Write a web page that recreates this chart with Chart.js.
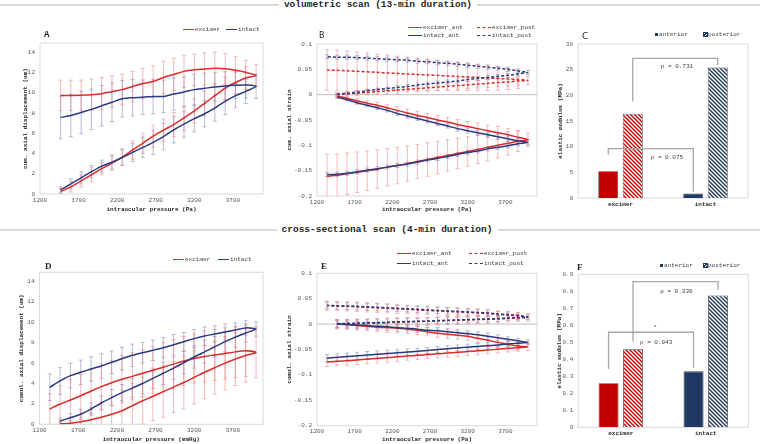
<!DOCTYPE html>
<html>
<head>
<meta charset="utf-8">
<script src="https://cdn.jsdelivr.net/npm/chart.js@4.4.1/dist/chart.umd.min.js"></script>
<style>
  body { margin: 0; width: 760px; height: 444px; background: #fff; position: relative; overflow: hidden;
         font-family: 'Liberation Mono', 'DejaVu Sans Mono', monospace; color: #404040; }
  canvas { position: absolute; }
  .sec { position: absolute; font-weight: bold; font-size: 9.5px; line-height: 10px; color: #262626; text-align: center; white-space: nowrap; }
  .rule { position: absolute; height: 1.5px; background: #d9d9d9; }
  .letter { position: absolute; line-height: 1; color: #262626; }
  .lg { position: absolute; font-size: 6px; line-height: 6px; white-space: nowrap; color: #404040; }
  .lg i { display: inline-block; width: 11px; border-top: 1.5px solid; vertical-align: middle; margin-right: 1px; }
  .lg b { display: inline-block; width: 3px; height: 3px; margin-right: 1px; vertical-align: middle; }
</style>
</head>
<body>

<div class="rule" style="left:0;top:4px;width:279px"></div>
<div class="rule" style="left:477px;top:4px;width:283px"></div>
<div class="sec" style="left:78px;top:0;width:600px">volumetric scan (13-min duration)</div>
<div class="rule" style="left:0;top:229px;width:277px"></div>
<div class="rule" style="left:498px;top:229px;width:262px"></div>
<div class="sec" style="left:87px;top:225px;width:600px">cross-sectional scan (4-min duration)</div>

<canvas id="chartA" width="268" height="195" style="left:0;top:20px"></canvas>
<canvas id="chartB" width="270" height="195" style="left:270px;top:20px"></canvas>
<canvas id="chartC" width="220" height="195" style="left:540px;top:20px"></canvas>
<canvas id="chartD" width="268" height="204" style="left:0;top:240px"></canvas>
<canvas id="chartE" width="270" height="204" style="left:270px;top:240px"></canvas>
<canvas id="chartF" width="220" height="204" style="left:540px;top:240px"></canvas>

<div class="letter" style="left:44px;top:30px;font:bold 9px 'Liberation Mono'">A</div>
<div class="letter" style="left:319px;top:31px;font:8px 'DejaVu Sans'">B</div>
<div class="letter" style="left:582px;top:31px;font:9px 'DejaVu Sans'">C</div>
<div class="letter" style="left:45px;top:261px;font:bold 9px 'Liberation Serif'">D</div>
<div class="letter" style="left:321px;top:261px;font:bold 9px 'Liberation Serif'">E</div>
<div class="letter" style="left:577px;top:262px;font:bold 9px 'Liberation Serif'">F</div>

<div class="lg" style="left:183px;top:27px"><i style="border-color:#dc2a2a"></i>excimer</div>
<div class="lg" style="left:226px;top:27px"><i style="border-color:#2a3a80"></i>intact</div>

<div class="lg" style="left:408px;top:24.7px"><i style="border-color:#dc2a2a;width:14px"></i>excimer_ant</div>
<div class="lg" style="left:477px;top:24.7px"><i style="border-color:#dc2a2a;border-top-style:dashed;width:14px"></i>excimer_post</div>
<div class="lg" style="left:408px;top:32.7px"><i style="border-color:#2a3a80;width:14px"></i>intact_ant</div>
<div class="lg" style="left:477px;top:32.7px"><i style="border-color:#2a3a80;border-top-style:dashed;width:14px"></i>intact_post</div>

<div class="lg" style="left:655px;top:32px"><b style="background:#1f3864"></b>anterior</div>
<div class="lg" style="left:704px;top:32px"><b style="background:repeating-linear-gradient(-45deg,#1f3864 0 1px,#fff 1px 2px);outline:0.5px solid #1f3864"></b>posterior</div>

<div class="lg" style="left:173px;top:257px"><i style="border-color:#dc2a2a"></i>excimer</div>
<div class="lg" style="left:218px;top:257px"><i style="border-color:#2a3a80"></i>intact</div>

<div class="lg" style="left:397px;top:251.3px"><i style="border-color:#dc2a2a;width:14px"></i>excimer_ant</div>
<div class="lg" style="left:469px;top:251.3px"><i style="border-color:#dc2a2a;border-top-style:dashed;width:14px"></i>excimer_post</div>
<div class="lg" style="left:397px;top:261px"><i style="border-color:#2a3a80;width:14px"></i>intact_ant</div>
<div class="lg" style="left:469px;top:261px"><i style="border-color:#2a3a80;border-top-style:dashed;width:14px"></i>intact_post</div>

<div class="lg" style="left:660px;top:263px"><b style="background:#1f3864"></b>anterior</div>
<div class="lg" style="left:704px;top:263px"><b style="background:repeating-linear-gradient(-45deg,#1f3864 0 1px,#fff 1px 2px);outline:0.5px solid #1f3864"></b>posterior</div>

<script>
// pressure steps (Pa), 11..30 mmHg on loading, back down on unloading
const pressureLoad = [1467, 1600, 1733, 1867, 2000, 2133, 2266, 2400, 2533, 2666, 2800, 2933, 3066, 3200, 3333, 3466, 3600, 3733, 3866, 4000];
const pressureUnloadA = [1467, 1600, 1733, 1867, 2000, 2133, 2266, 2400, 2533, 2666, 2800, 2933, 3066, 3200, 3333, 3466, 3600, 3733, 3866];
const pressureUnload = [1333, 1467, 1600, 1733, 1867, 2000, 2133, 2266, 2400, 2533, 2666, 2800, 2933, 3066, 3200, 3333, 3466, 3600, 3733, 3866];

const xTicks = [1200, 1700, 2200, 2700, 3200, 3700];
const dispTicks = [0, 2, 4, 6, 8, 10, 12, 14];
const dispLabels = ["0", "2", "4", "6", "8", "10", "12", "14"];
const strainTicks = [-0.2, -0.15, -0.1, -0.05, 0, 0.05, 0.1];
const strainLabels = ["-0.2", "-0.15", "-0.1", "-0.05", "0", "0.05", "0.1"];
const modTicksC = [0, 5, 10, 15, 20, 25, 30];
const modLabelsC = ["0", "5", "10", "15", "20", "25", "30"];
const modTicksF = [0, 0.1, 0.2, 0.3, 0.4, 0.5, 0.6, 0.7, 0.8, 0.9];
const modLabelsF = ["0", "0.1", "0.2", "0.3", "0.4", "0.5", "0.6", "0.7", "0.8", "0.9"];

// A - volumetric, displacement (um)
const aExcimerLoad = [0.25, 0.7, 1.3, 1.9, 2.5, 3.05, 3.65, 4.35, 5.0, 5.7, 6.3, 6.85, 7.5, 8.2, 8.95, 9.7, 10.45, 11.0, 11.45, 11.7];
const aExcimerLoadErr = [0.3, 0.5, 0.6, 0.7, 0.6, 0.7, 0.8, 0.9, 1.0, 1.1, 1.1, 1.2, 1.2, 1.2, 1.2, 1.2, 1.1, 1.1, 1.1, 1.1];
const aExcimerUnload = [9.73, 9.73, 9.75, 9.8, 9.9, 10.1, 10.3, 10.6, 10.9, 11.1, 11.5, 11.8, 12.1, 12.25, 12.33, 12.4, 12.35, 12.2, 12.0];
const aExcimerUnloadErr = [1.5, 1.5, 1.5, 1.55, 1.6, 1.55, 1.5, 1.5, 1.5, 1.55, 1.6, 1.6, 1.6, 1.55, 1.6, 1.6, 1.5, 1.35, 1.2];
const aIntactLoad = [0.4, 1.0, 1.6, 2.2, 2.75, 3.15, 3.6, 4.1, 4.6, 5.1, 5.67, 6.33, 6.9, 7.43, 7.92, 8.48, 9.14, 9.7, 10.13, 10.62];
const aIntactLoadErr = [0.3, 0.5, 0.6, 0.6, 0.6, 0.7, 0.8, 0.9, 1.0, 1.2, 1.3, 1.3, 1.3, 1.3, 1.3, 1.3, 1.3, 1.2, 1.2, 1.2];
const aIntactUnload = [7.55, 7.75, 8.05, 8.35, 8.7, 9.05, 9.4, 9.5, 9.55, 9.63, 9.63, 9.87, 10.07, 10.3, 10.43, 10.56, 10.66, 10.72, 10.75];
const aIntactUnloadErr = [2.1, 2.1, 2.1, 2.0, 2.0, 1.9, 1.8, 1.8, 1.7, 1.7, 1.6, 1.6, 1.5, 1.5, 1.5, 1.4, 1.4, 1.3, 1.3];

// B - volumetric, strain
const bExcimerAntLoad = [-0.003, -0.007, -0.012, -0.017, -0.021, -0.026, -0.031, -0.036, -0.041, -0.045, -0.050, -0.054, -0.059, -0.063, -0.067, -0.071, -0.075, -0.079, -0.084, -0.089];
const bExcimerAntLoadErr = [0.004, 0.004, 0.005, 0.005, 0.006, 0.006, 0.007, 0.007, 0.008, 0.008, 0.009, 0.009, 0.010, 0.010, 0.011, 0.011, 0.012, 0.012, 0.013, 0.013];
const bExcimerAntUnload = [-0.161, -0.159, -0.156, -0.153, -0.150, -0.147, -0.143, -0.140, -0.136, -0.132, -0.128, -0.124, -0.120, -0.116, -0.112, -0.108, -0.104, -0.100, -0.096, -0.092];
const bExcimerAntUnloadErr = [0.043, 0.042, 0.041, 0.040, 0.039, 0.038, 0.037, 0.036, 0.035, 0.034, 0.033, 0.032, 0.031, 0.030, 0.029, 0.028, 0.027, 0.025, 0.023, 0.020];
const bIntactAntLoad = [-0.005, -0.010, -0.016, -0.021, -0.026, -0.031, -0.037, -0.042, -0.047, -0.052, -0.057, -0.062, -0.067, -0.071, -0.075, -0.079, -0.083, -0.087, -0.091, -0.094];
const bIntactAntLoadErr = [0.002, 0.002, 0.003, 0.003, 0.003, 0.003, 0.004, 0.004, 0.004, 0.004, 0.004, 0.004, 0.005, 0.005, 0.005, 0.005, 0.005, 0.005, 0.005, 0.005];
const bIntactAntUnload = [-0.158, -0.157, -0.155, -0.152, -0.149, -0.146, -0.143, -0.140, -0.137, -0.133, -0.129, -0.126, -0.122, -0.118, -0.114, -0.111, -0.107, -0.104, -0.101, -0.097];
const bIntactAntUnloadErr = [0.004, 0.004, 0.004, 0.004, 0.004, 0.004, 0.004, 0.004, 0.004, 0.004, 0.004, 0.004, 0.004, 0.004, 0.004, 0.004, 0.004, 0.004, 0.004, 0.004];
const bExcimerPostLoad = [0, 0.0015, 0.003, 0.0045, 0.006, 0.0075, 0.009, 0.0105, 0.012, 0.0135, 0.015, 0.0165, 0.018, 0.0195, 0.021, 0.022, 0.024, 0.025, 0.027, 0.028];
const bExcimerPostLoadErr = [0.004, 0.004, 0.005, 0.005, 0.005, 0.006, 0.006, 0.006, 0.006, 0.007, 0.007, 0.007, 0.007, 0.007, 0.008, 0.008, 0.008, 0.008, 0.008, 0.008];
const bExcimerPostUnload = [0.0487, 0.048, 0.047, 0.046, 0.045, 0.044, 0.043, 0.042, 0.041, 0.040, 0.039, 0.038, 0.037, 0.036, 0.035, 0.034, 0.033, 0.032, 0.031, 0.030];
const bExcimerPostUnloadErr = [0.040, 0.040, 0.039, 0.038, 0.037, 0.036, 0.035, 0.034, 0.033, 0.032, 0.031, 0.030, 0.029, 0.028, 0.027, 0.026, 0.025, 0.023, 0.021, 0.018];
const bIntactPostLoad = [0.001, 0.003, 0.005, 0.008, 0.010, 0.012, 0.014, 0.016, 0.019, 0.021, 0.023, 0.025, 0.027, 0.030, 0.032, 0.034, 0.036, 0.038, 0.041, 0.044];
const bIntactPostLoadErr = [0.002, 0.002, 0.003, 0.003, 0.003, 0.003, 0.004, 0.004, 0.004, 0.004, 0.004, 0.004, 0.004, 0.004, 0.004, 0.004, 0.004, 0.004, 0.004, 0.004];
const bIntactPostUnload = [0.075, 0.074, 0.074, 0.073, 0.072, 0.071, 0.070, 0.069, 0.068, 0.066, 0.065, 0.063, 0.062, 0.060, 0.058, 0.056, 0.054, 0.052, 0.050, 0.047];
const bIntactPostUnloadErr = [0.004, 0.004, 0.004, 0.004, 0.004, 0.004, 0.004, 0.004, 0.004, 0.004, 0.004, 0.004, 0.004, 0.004, 0.004, 0.004, 0.004, 0.004, 0.004, 0.004];

// C - volumetric, elastic modulus (MPa)
const groups = ["excimer", "intact"];
const cAnterior = [5.2, 0.9];
const cPosterior = [16.4, 25.4];

// D - cross-sectional, displacement (um)
const dExcimerLoad = [0.05, 0.1, 0.26, 0.45, 0.69, 0.98, 1.33, 1.82, 2.31, 2.75, 3.2, 3.65, 4.1, 4.6, 5.1, 5.55, 6.0, 6.4, 6.75, 7.05];
const dExcimerLoadErr = [0.3, 0.6, 0.9, 1.2, 1.5, 1.8, 2.0, 2.2, 2.3, 2.4, 2.5, 2.5, 2.6, 2.6, 2.6, 2.6, 2.6, 2.6, 2.6, 2.5];
const dExcimerUnload = [1.5, 1.99, 2.38, 2.8, 3.26, 3.69, 4.08, 4.41, 4.7, 5.0, 5.3, 5.6, 5.9, 6.2, 6.45, 6.65, 6.8, 6.95, 7.1, 7.2];
const dExcimerUnloadErr = [1.5, 1.8, 2.0, 2.1, 2.2, 2.2, 2.2, 2.3, 2.3, 2.3, 2.3, 2.4, 2.4, 2.4, 2.4, 2.5, 2.5, 2.5, 2.5, 2.5];
const dIntactLoad = [0.32, 0.65, 0.98, 1.5, 2.09, 2.61, 3.1, 3.55, 4.0, 4.5, 5.0, 5.5, 6.05, 6.6, 7.1, 7.6, 8.1, 8.55, 8.95, 9.34];
const dIntactLoadErr = [0.3, 0.4, 0.5, 0.6, 0.7, 0.8, 0.8, 0.9, 1.0, 1.0, 1.1, 1.1, 1.1, 1.1, 1.1, 1.0, 1.0, 1.0, 0.9, 0.7];
const dIntactUnload = [3.63, 4.25, 4.77, 5.1, 5.42, 5.72, 6.08, 6.43, 6.76, 7.02, 7.25, 7.5, 7.8, 8.1, 8.4, 8.65, 8.85, 9.05, 9.25, 9.45];
const dIntactUnloadErr = [1.3, 1.3, 1.2, 1.2, 1.2, 1.2, 1.1, 1.1, 1.1, 1.0, 1.0, 1.0, 1.0, 0.9, 0.9, 0.9, 0.8, 0.8, 0.7, 0.7];

// E - cross-sectional, strain
const eExcimerAntLoad = [0, -0.001, -0.003, -0.004, -0.006, -0.007, -0.008, -0.010, -0.012, -0.015, -0.018, -0.020, -0.022, -0.024, -0.028, -0.032, -0.036, -0.040, -0.043, -0.045];
const eExcimerAntUnload = [-0.0745, -0.073, -0.072, -0.0705, -0.069, -0.0675, -0.066, -0.0645, -0.063, -0.0615, -0.060, -0.0585, -0.057, -0.0555, -0.054, -0.0525, -0.051, -0.0495, -0.048, -0.0465];
const eIntactAntLoad = [0, -0.001, -0.002, -0.003, -0.004, -0.005, -0.007, -0.008, -0.010, -0.012, -0.013, -0.015, -0.017, -0.019, -0.021, -0.024, -0.027, -0.030, -0.033, -0.036];
const eIntactAntUnload = [-0.067, -0.0655, -0.064, -0.0625, -0.061, -0.0595, -0.058, -0.0565, -0.055, -0.0535, -0.052, -0.050, -0.0485, -0.047, -0.0455, -0.044, -0.0425, -0.041, -0.039, -0.0375];
const eExcimerPostLoad = [0, 0.0005, 0.001, 0.0015, 0.002, 0.003, 0.0035, 0.004, 0.005, 0.0055, 0.006, 0.007, 0.0075, 0.008, 0.009, 0.0095, 0.010, 0.011, 0.012, 0.013];
const eExcimerPostUnload = [0.036, 0.0355, 0.035, 0.034, 0.033, 0.032, 0.031, 0.030, 0.029, 0.028, 0.027, 0.026, 0.025, 0.024, 0.023, 0.022, 0.021, 0.019, 0.018, 0.016];
const eIntactPostLoad = [0.001, 0.0015, 0.002, 0.0025, 0.003, 0.0035, 0.0045, 0.005, 0.0055, 0.006, 0.007, 0.0075, 0.008, 0.009, 0.0095, 0.010, 0.011, 0.012, 0.013, 0.014];
const eIntactPostUnload = [0.037, 0.036, 0.0355, 0.035, 0.034, 0.033, 0.032, 0.031, 0.030, 0.029, 0.028, 0.027, 0.026, 0.025, 0.024, 0.023, 0.022, 0.020, 0.019, 0.017];
const eExcimerErr = [0.009, 0.009, 0.009, 0.009, 0.009, 0.009, 0.009, 0.009, 0.008, 0.008, 0.008, 0.008, 0.008, 0.008, 0.008, 0.008, 0.007, 0.007, 0.007, 0.007];
const eIntactErr = [0.007, 0.007, 0.007, 0.007, 0.007, 0.007, 0.007, 0.006, 0.006, 0.006, 0.006, 0.006, 0.006, 0.006, 0.006, 0.006, 0.006, 0.005, 0.005, 0.005];

// F - cross-sectional, elastic modulus (MPa)
const fAnterior = [0.259, 0.329];
const fPosterior = [0.459, 0.776];

// significance brackets: dataset of the two bars, leg ends, bar top, notes [text, value, share of span]
const cBrackets = [
    { set: 0, legs: [8.45, 1.2], top: 9.6, notes: [["p = 0.075", 8.0, 0.69]] },
    { set: 1, legs: [18.8, 25.85], top: 27.2, notes: [["p = 0.731", 25.7, 0.52]] }
];
const fBrackets = [
    { set: 0, legs: [0.343, 0.347], top: 0.559, notes: [["*", 0.585, 0.55], ["p = 0.043", 0.497, 0.56]] },
    { set: 1, legs: [0.503, 0.808], top: 0.857, notes: [["p = 0.336", 0.798, 0.51]] }
];

const RED = "#dc2a2a";
const NAVY = "#2a3a80";
const RED_ERR = "rgba(236, 130, 130, 0.55)";
const NAVY_ERR = "rgba(120, 135, 180, 0.55)";
const BAR_RED = "#c00000";
const BAR_NAVY = "#1f3864";

Chart.defaults.font.family = "'Liberation Mono', 'DejaVu Sans Mono', monospace";
Chart.defaults.font.size = 6;
Chart.defaults.color = "#595959";

// loading path forwards, then unloading path back to the start
function loop(load, loadErr, unloadP, unload, unloadErr) {
    const data = load.map((y, i) => ({ x: pressureLoad[i], y: y }));
    const errors = loadErr.slice();
    for (let i = unload.length - 1; i >= 0; i--) {
        data.push({ x: unloadP[i], y: unload[i] });
        errors.push(unloadErr[i]);
    }
    return { data, errors };
}

function series(l, color, errColor, dashed) {
    return {
        data: l.data,
        errors: l.errors,
        errorColor: errColor,
        borderColor: color,
        borderDash: dashed ? [3, 2] : [],
        fill: false
    };
}

const plotFrame = {
    id: 'plotFrame',
    beforeDatasetsDraw(chart, args, opts) {
        const { ctx, chartArea: a } = chart;
        ctx.save();
        ctx.strokeStyle = "#d9d9d9";
        ctx.lineWidth = 1;
        ctx.strokeRect(a.left, a.top, a.width, a.height);
        if (opts.zeroLine) {
            const y0 = chart.scales.y.getPixelForValue(0);
            ctx.strokeStyle = "#bfbfbf";
            ctx.beginPath();
            ctx.moveTo(a.left, y0);
            ctx.lineTo(a.right, y0);
            ctx.stroke();
        }
        ctx.restore();
    }
};

const errorBars = {
    id: 'errorBars',
    beforeDatasetsDraw(chart) {
        const { ctx, chartArea: a, scales } = chart;
        ctx.save();
        ctx.beginPath();
        ctx.rect(a.left, a.top, a.width, a.height);
        ctx.clip();
        chart.data.datasets.forEach((ds, di) => {
            if (!ds.errors) return;
            const meta = chart.getDatasetMeta(di);
            ctx.strokeStyle = ds.errorColor;
            ctx.lineWidth = 1;
            meta.data.forEach((pt, i) => {
                const e = ds.errors[i];
                if (!e) return;
                const v = ds.data[i].y;
                const yTop = scales.y.getPixelForValue(v + e);
                const yBot = scales.y.getPixelForValue(v - e);
                ctx.beginPath();
                ctx.moveTo(pt.x, yTop);
                ctx.lineTo(pt.x, yBot);
                ctx.moveTo(pt.x - 2, yTop);
                ctx.lineTo(pt.x + 2, yTop);
                ctx.moveTo(pt.x - 2, yBot);
                ctx.lineTo(pt.x + 2, yBot);
                ctx.stroke();
            });
        });
        ctx.restore();
    }
};

const brackets = {
    id: 'brackets',
    afterDatasetsDraw(chart, args, opts) {
        const { ctx, scales: { y } } = chart;
        (opts.items || []).forEach(b => {
            const bars = chart.getDatasetMeta(b.set).data;
            const x1 = bars[0].x;
            const x2 = bars[1].x;
            const yTop = y.getPixelForValue(b.top);
            ctx.save();
            ctx.strokeStyle = "#a6a6a6";
            ctx.lineWidth = 1.3;
            ctx.beginPath();
            ctx.moveTo(x1, y.getPixelForValue(b.legs[0]));
            ctx.lineTo(x1, yTop);
            ctx.lineTo(x2, yTop);
            ctx.lineTo(x2, y.getPixelForValue(b.legs[1]));
            ctx.stroke();
            ctx.fillStyle = "#404040";
            ctx.font = "6px 'Liberation Mono'";
            ctx.textAlign = "center";
            ctx.textBaseline = "middle";
            b.notes.forEach(([text, v, at]) => {
                ctx.fillText(text, x1 + (x2 - x1) * at, y.getPixelForValue(v));
            });
            ctx.restore();
        });
    }
};

function hatch(color) {
    const c = document.createElement('canvas');
    c.width = 4;
    c.height = 4;
    const g = c.getContext('2d');
    g.fillStyle = "#fff";
    g.fillRect(0, 0, 4, 4);
    g.strokeStyle = color;
    g.lineWidth = 1.4;
    g.beginPath();
    g.moveTo(-1, -1); g.lineTo(5, 5);
    g.moveTo(-1, 3); g.lineTo(1, 5);
    g.moveTo(3, -1); g.lineTo(5, 1);
    g.stroke();
    return g.createPattern(c, 'repeat');
}

const noGrid = { display: false, drawTicks: false, tickLength: 0 };

function lineChart(id, datasets, o) {
    return new Chart(document.getElementById(id), {
        type: 'line',
        data: { datasets },
        plugins: [plotFrame, errorBars],
        options: {
            responsive: false,
            animation: false,
            layout: { padding: { top: o.padTop, right: o.padRight, left: 0, bottom: 0 } },
            elements: { point: { radius: 0 }, line: { borderWidth: 1.5, tension: 0.3 } },
            plugins: { legend: { display: false }, tooltip: { enabled: false }, plotFrame: { zeroLine: o.zeroLine } },
            scales: {
                x: {
                    type: 'linear', min: 1200, max: o.xMax,
                    grid: noGrid, border: { display: false },
                    afterBuildTicks: s => { s.ticks = xTicks.map(v => ({ value: v })); },
                    afterFit: s => { s.height = o.xHeight; },
                    ticks: { padding: 2.4, maxRotation: 0, autoSkip: false, callback: v => String(v) },
                    title: { display: true, text: o.xTitle, color: "#262626", font: { weight: 'bold' }, padding: { top: 0, bottom: o.xTitlePad } }
                },
                y: {
                    type: 'linear', min: o.yMin, max: o.yMax,
                    grid: noGrid, border: { display: false },
                    afterBuildTicks: s => { s.ticks = o.yTicks.map(v => ({ value: v })); },
                    afterFit: s => { s.width = o.yWidth; },
                    ticks: { padding: 5, autoSkip: false, callback: (v, i) => o.yLabels[i] },
                    title: { display: true, text: o.yTitle, color: "#262626", font: { weight: 'bold' }, padding: { top: o.yTitlePad, bottom: 0 } }
                }
            }
        }
    });
}

function barChart(id, anterior, posterior, o) {
    return new Chart(document.getElementById(id), {
        type: 'bar',
        data: {
            labels: groups,
            datasets: [
                { label: 'anterior', data: anterior, backgroundColor: [BAR_RED, BAR_NAVY],
                  borderColor: "#404040", borderWidth: 0.8, categoryPercentage: 0.576, barPercentage: 0.816 },
                { label: 'posterior', data: posterior, backgroundColor: [hatch(BAR_RED), hatch(BAR_NAVY)],
                  borderColor: "#404040", borderWidth: 0.8, categoryPercentage: 0.576, barPercentage: 0.816 }
            ]
        },
        plugins: [plotFrame, brackets],
        options: {
            responsive: false,
            animation: false,
            layout: { padding: { top: o.padTop, right: o.padRight, left: 0, bottom: 0 } },
            plugins: { legend: { display: false }, tooltip: { enabled: false }, brackets: { items: o.brackets } },
            scales: {
                x: {
                    grid: noGrid, border: { display: false },
                    afterFit: s => { s.height = o.xHeight; },
                    ticks: { padding: 2.4, color: "#262626", font: { weight: 'bold' } }
                },
                y: {
                    min: 0, max: o.yMax,
                    grid: noGrid, border: { display: false },
                    afterBuildTicks: s => { s.ticks = o.yTicks.map(v => ({ value: v })); },
                    afterFit: s => { s.width = o.yWidth; },
                    ticks: { padding: 5, autoSkip: false, callback: (v, i) => o.yLabels[i] },
                    title: { display: true, text: "elastic modulus (MPa)", color: "#262626", font: { weight: 'bold' }, padding: { top: o.yTitlePad, bottom: 0 } }
                }
            }
        }
    });
}

lineChart("chartA", [
    series(loop(aIntactLoad, aIntactLoadErr, pressureUnloadA, aIntactUnload, aIntactUnloadErr), NAVY, NAVY_ERR),
    series(loop(aExcimerLoad, aExcimerLoadErr, pressureUnloadA, aExcimerUnload, aExcimerUnloadErr), RED, RED_ERR)
], { padTop: 23, padRight: 5, yWidth: 40, xHeight: 21, xMax: 4090, yMin: 0, yMax: 14.9,
     yTicks: dispTicks, yLabels: dispLabels, yTitle: "cum. axial displacement (um)", yTitlePad: 21.4,
     xTitle: "intraocular pressure (Pa)", xTitlePad: 2.4 });

lineChart("chartB", [
    series(loop(bIntactAntLoad, bIntactAntLoadErr, pressureUnload, bIntactAntUnload, bIntactAntUnloadErr), NAVY, NAVY_ERR),
    series(loop(bIntactPostLoad, bIntactPostLoadErr, pressureUnload, bIntactPostUnload, bIntactPostUnloadErr), NAVY, NAVY_ERR, true),
    series(loop(bExcimerAntLoad, bExcimerAntLoadErr, pressureUnload, bExcimerAntUnload, bExcimerAntUnloadErr), RED, RED_ERR),
    series(loop(bExcimerPostLoad, bExcimerPostLoadErr, pressureUnload, bExcimerPostUnload, bExcimerPostUnloadErr), RED, RED_ERR, true)
], { padTop: 24, padRight: 3, yWidth: 47, xHeight: 19, xMax: 4120, yMin: -0.2, yMax: 0.1, zeroLine: true,
     yTicks: strainTicks, yLabels: strainLabels, yTitle: "cum. axial strain", yTitlePad: 15.7,
     xTitle: "intraocular pressure (Pa)", xTitlePad: 2.4 });

barChart("chartC", cAnterior, cPosterior, { padTop: 24, padRight: 12, yWidth: 38, xHeight: 17, yMax: 30,
    yTicks: modTicksC, yLabels: modLabelsC, yTitlePad: 16.4, brackets: cBrackets });

lineChart("chartD", [
    series(loop(dIntactLoad, dIntactLoadErr, pressureUnload, dIntactUnload, dIntactUnloadErr), NAVY, NAVY_ERR),
    series(loop(dExcimerLoad, dExcimerLoadErr, pressureUnload, dExcimerUnload, dExcimerUnloadErr), RED, RED_ERR)
], { padTop: 32.3, padRight: 5, yWidth: 39.5, xHeight: 19.7, xMax: 4090, yMin: 0, yMax: 14.9,
     yTicks: dispTicks, yLabels: dispLabels, yTitle: "cumul. axial displacement (um)", yTitlePad: 18.1,
     xTitle: "intraocular pressure (mmHg)", xTitlePad: 1.2 });

lineChart("chartE", [
    series(loop(eIntactAntLoad, eIntactErr, pressureUnload, eIntactAntUnload, eIntactErr), NAVY, NAVY_ERR),
    series(loop(eIntactPostLoad, eIntactErr, pressureUnload, eIntactPostUnload, eIntactErr), NAVY, NAVY_ERR, true),
    series(loop(eExcimerAntLoad, eExcimerErr, pressureUnload, eExcimerAntUnload, eExcimerErr), RED, RED_ERR),
    series(loop(eExcimerPostLoad, eExcimerErr, pressureUnload, eExcimerPostUnload, eExcimerErr), RED, RED_ERR, true)
], { padTop: 33.3, padRight: 3, yWidth: 47, xHeight: 18.3, xMax: 4120, yMin: -0.2, yMax: 0.1, zeroLine: true,
     yTicks: strainTicks, yLabels: strainLabels, yTitle: "cumul. axial strain", yTitlePad: 15.7,
     xTitle: "intraocular pressure (Pa)", xTitlePad: 1.2 });

barChart("chartF", fAnterior, fPosterior, { padTop: 34.3, padRight: 11.7, yWidth: 38.3, xHeight: 16.7, yMax: 0.9,
    yTicks: modTicksF, yLabels: modLabelsF, yTitlePad: 15.4, brackets: fBrackets });
</script>
</body>
</html>
